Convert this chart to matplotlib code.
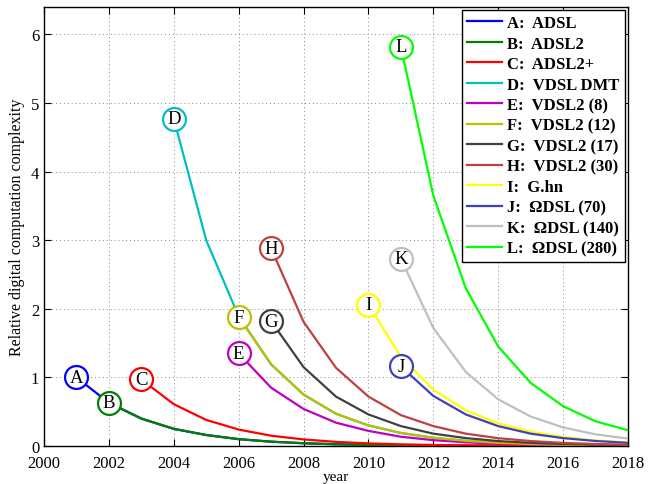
import matplotlib
matplotlib.use("Agg")
import matplotlib.pyplot as plt

plt.rcParams['font.family'] = ['Liberation Serif', 'DejaVu Serif']
plt.rcParams['mathtext.fontset'] = 'stix'

letters = ['A', 'B', 'C', 'D', 'E', 'F', 'G', 'H', 'I', 'J', 'K', 'L']
names = ['ADSL', 'ADSL2', 'ADSL2+', 'VDSL DMT', 'VDSL2 (8)', 'VDSL2 (12)',
         'VDSL2 (17)', 'VDSL2 (30)', 'G.hn', '\u03a9DSL (70)', '\u03a9DSL (140)', '\u03a9DSL (280)']
start_years = [2001, 2002, 2003, 2004, 2006, 2006, 2007, 2007, 2010, 2011, 2011, 2011]
colors = ['#0000ff', '#008000', '#ff0000', '#00bfbf', '#bf00bf', '#bfbf00',
          '#404040', '#bf4040', '#ffff00', '#4040bf', '#bfbfbf', '#00ff00']

A_vals = [1.0, 0.63, 0.40, 0.25, 0.16, 0.10, 0.063, 0.04, 0.025, 0.016, 0.01, 0.0063, 0.004, 0.0025, 0.0016, 0.001, 0.0006, 0.0004]
B_vals = [0.63, 0.40, 0.25, 0.16, 0.10, 0.063, 0.04, 0.025, 0.016, 0.01, 0.0063, 0.004, 0.0025, 0.0016, 0.001, 0.0006, 0.0004]
C_vals = [0.97, 0.61, 0.38, 0.24, 0.15, 0.096, 0.06, 0.038, 0.024, 0.015, 0.0095, 0.006, 0.0038, 0.0024, 0.0015, 0.001]
D_vals = [4.77, 3.0, 1.89, 1.19, 0.75, 0.47, 0.30, 0.19, 0.12, 0.075, 0.047, 0.03, 0.019, 0.012, 0.0075]
E_vals = [1.35, 0.85, 0.54, 0.34, 0.22, 0.135, 0.085, 0.054, 0.034, 0.021, 0.0135, 0.0085, 0.0054]
F_vals = [1.88, 1.19, 0.75, 0.47, 0.30, 0.19, 0.12, 0.075, 0.047, 0.03, 0.019, 0.012, 0.0075]
G_vals = [1.82, 1.15, 0.72, 0.46, 0.29, 0.18, 0.115, 0.072, 0.046, 0.029, 0.018, 0.0115]
H_vals = [2.88, 1.81, 1.14, 0.72, 0.45, 0.29, 0.18, 0.114, 0.072, 0.045, 0.029, 0.018]
I_vals = [2.06, 1.30, 0.82, 0.52, 0.33, 0.21, 0.13, 0.082, 0.052]
J_vals = [1.16, 0.73, 0.46, 0.29, 0.18, 0.115, 0.073, 0.046]
K_vals = [2.73, 1.72, 1.08, 0.68, 0.43, 0.27, 0.17, 0.108]
L_vals = [5.82, 3.65, 2.30, 1.45, 0.92, 0.58, 0.36, 0.23]

series = [A_vals, B_vals, C_vals, D_vals, E_vals, F_vals, G_vals, H_vals, I_vals, J_vals, K_vals, L_vals]

x_ticks = [2000, 2002, 2004, 2006, 2008, 2010, 2012, 2014, 2016, 2018]
y_ticks = [0, 1, 2, 3, 4, 5, 6]

fig = plt.figure(figsize=(6.62, 4.85), dpi=100)
ax = fig.add_axes([44/662, 38/485, (628-44)/662, (447-8)/485])

for let, name, y0, col, vals in zip(letters, names, start_years, colors, series):
    yrs = list(range(y0, y0 + len(vals)))
    ax.plot(yrs, vals, color=col, lw=1.6, label=f'{let}:  {name}', zorder=3)

for let, y0, col, vals in zip(letters, start_years, colors, series):
    ax.plot([y0], [vals[0]], marker='o', markersize=16.5, markerfacecolor='white',
            markeredgecolor=col, markeredgewidth=1.6, zorder=5, clip_on=False)
    ax.text(y0, vals[0], let, ha='center', va='center', fontsize=13.5, zorder=6)

ax.set_xlim(2000, 2018)
ax.set_ylim(0, 6.4)
ax.set_xticks(x_ticks)
ax.set_yticks(y_ticks)
ax.tick_params(direction='in', top=True, right=True, length=5, labelsize=12, width=0.8)
ax.tick_params(axis='x', pad=6.5)
ax.tick_params(axis='y', pad=3.5)
ax.grid(True, linestyle=(0, (1, 3)), color='#888888', linewidth=0.7)
ax.set_axisbelow(True)
for s in ax.spines.values():
    s.set_linewidth(1.0)
ax.set_xlabel('year', fontsize=11, labelpad=-1)
ax.set_ylabel('Relative digital computation complexity', fontsize=11.5, labelpad=4)

leg = ax.legend(loc='upper right', prop={'weight': 'bold', 'size': 12},
                handlelength=2.1, handletextpad=0.3, labelspacing=0.27,
                borderaxespad=0.2, fancybox=False, framealpha=1, edgecolor='black',
                borderpad=0.3)
leg.get_frame().set_linewidth(1.0)

fig.savefig('out.png', dpi=100)
